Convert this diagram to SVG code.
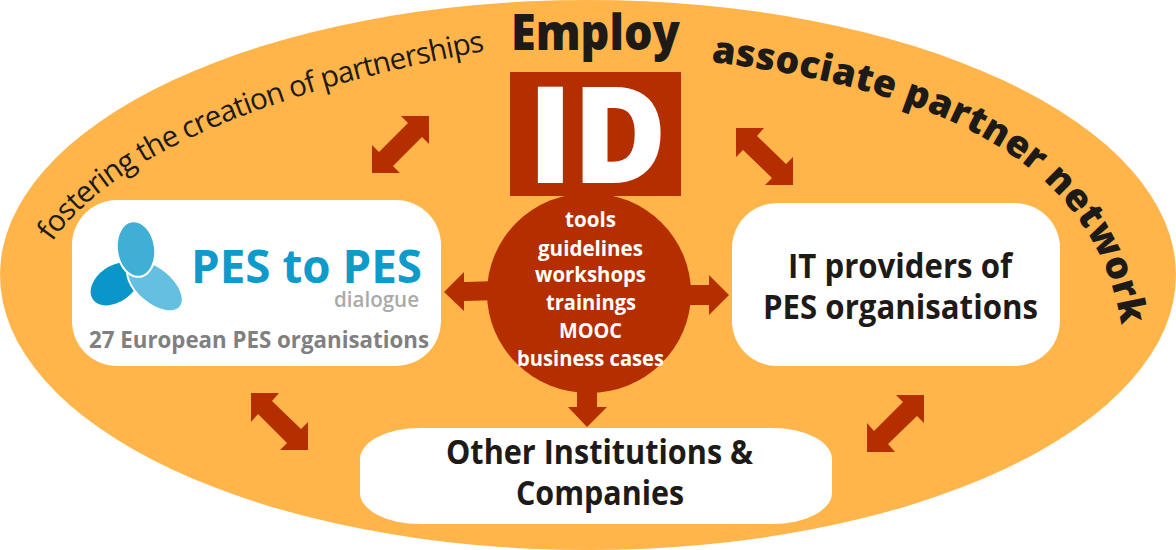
<svg xmlns="http://www.w3.org/2000/svg" width="1176" height="550" viewBox="0 0 1176 550">
<style>
text{font-family:"Open Sans","Noto Sans","Liberation Sans",sans-serif;fill:#1d1a18}
.b{font-weight:700}
.m{text-anchor:middle}
.box{fill:#fff}
.red{fill:#b52e00}
.w{fill:#fff;font-weight:700;font-size:21px}
.h{font-weight:700;font-size:34px}
.lobe{stroke:#fff;stroke-width:2}
</style>
<defs>
<path id="arcL" d="M52 242C120 145 300 85 490 50"/>
<path id="arcR" d="M711 62C895 85 1095 140 1122 330"/>
</defs>
<ellipse id="background" cx="588" cy="275" rx="588" ry="275" fill="#ffb54a"/>
<text id="label-fostering" font-size="29.500" letter-spacing="-0.850"><textPath href="#arcL">fostering the creation of partnerships</textPath></text>
<text id="label-associate" font-size="37.500" font-weight="800" letter-spacing="0.400"><textPath href="#arcR">associate partner network</textPath></text>
<g id="connectors" class="red">
<polygon points="429,116 429,144 422,137 393,166 400,173 372,173 372,145 379,152 408,123 401,116"/>
<polygon points="736,128 764,128 757,136 786,164 793,157 793,185 765,185 772,178 743,150 736,157"/>
<polygon points="251,393 279,393 272,401 301,429 308,422 308,450 280,450 287,443 258,414 251,422"/>
<polygon points="924,395 896,395 903,402 874,431 867,423 867,452 895,452 888,444 917,416 924,423"/>
<polygon points="444,292 464,272 464,282 500,281 500,300 464,301 464,311"/>
<polygon points="729,295 709,275 709,285 680,285 680,305 709,305 709,315"/>
<polygon points="577,385 597,385 597,407 607,407 587,427 568,407 577,407"/>
</g>
<g id="node-employid">
<text x="511" y="50" font-size="49" font-weight="800" textLength="169" lengthAdjust="spacingAndGlyphs">Employ</text>
<rect class="red" x="510" y="72" width="171" height="124"/>
<text x="528" y="183" font-size="134" font-weight="800" style="fill:#fff" textLength="139" lengthAdjust="spacingAndGlyphs">ID</text>
</g>
<g id="node-services">
<ellipse class="red" cx="589" cy="293" rx="102" ry="100"/>
<text class="w" x="565" y="227" textLength="51" lengthAdjust="spacingAndGlyphs">tools</text>
<text class="w" x="538" y="256" textLength="105" lengthAdjust="spacingAndGlyphs">guidelines</text>
<text class="w" x="535" y="282" textLength="111" lengthAdjust="spacingAndGlyphs">workshops</text>
<text class="w" x="546" y="310" textLength="90" lengthAdjust="spacingAndGlyphs">trainings</text>
<text class="w" x="559" y="338" textLength="63" lengthAdjust="spacingAndGlyphs">MOOC</text>
<text class="w" x="517" y="366" textLength="147" lengthAdjust="spacingAndGlyphs">business cases</text>
</g>
<g id="node-pes">
<rect class="box" x="72" y="200" width="369" height="166" rx="45" ry="45"/>
<ellipse cx="115" cy="284" rx="27" ry="18" fill="#0a96c8" transform="rotate(-35 115 284)"/>
<ellipse class="lobe" cx="155" cy="286" rx="33" ry="18" fill="#64bfe0" transform="rotate(40 155 286)"/>
<ellipse class="lobe" cx="136" cy="249" rx="19" ry="28" fill="#3fafd6" transform="rotate(-8 136 249)"/>
<text x="191" y="283" font-size="46" font-weight="700" style="fill:#0e9acb" textLength="231" lengthAdjust="spacingAndGlyphs">PES to PES</text>
<text x="334" y="307" font-size="21" font-weight="600" style="fill:#aaa" textLength="85" lengthAdjust="spacingAndGlyphs">dialogue</text>
<text class="b" x="89" y="348" font-size="23" style="fill:#808080" textLength="340" lengthAdjust="spacingAndGlyphs">27 European PES organisations</text>
</g>
<g id="node-it">
<rect class="box" x="732" y="203" width="328" height="163" rx="45" ry="45"/>
<text class="h" x="788" y="278" textLength="224" lengthAdjust="spacingAndGlyphs">IT providers of</text>
<text class="h" x="763" y="319" textLength="275" lengthAdjust="spacingAndGlyphs">PES organisations</text>
</g>
<g id="node-other">
<rect class="box" x="360" y="428" width="472" height="96" rx="60" ry="31"/>
<text class="h" x="446" y="464" textLength="307" lengthAdjust="spacingAndGlyphs">Other Institutions &amp;</text>
<text class="h" x="516" y="505" textLength="168" lengthAdjust="spacingAndGlyphs">Companies</text>
</g>
</svg>
